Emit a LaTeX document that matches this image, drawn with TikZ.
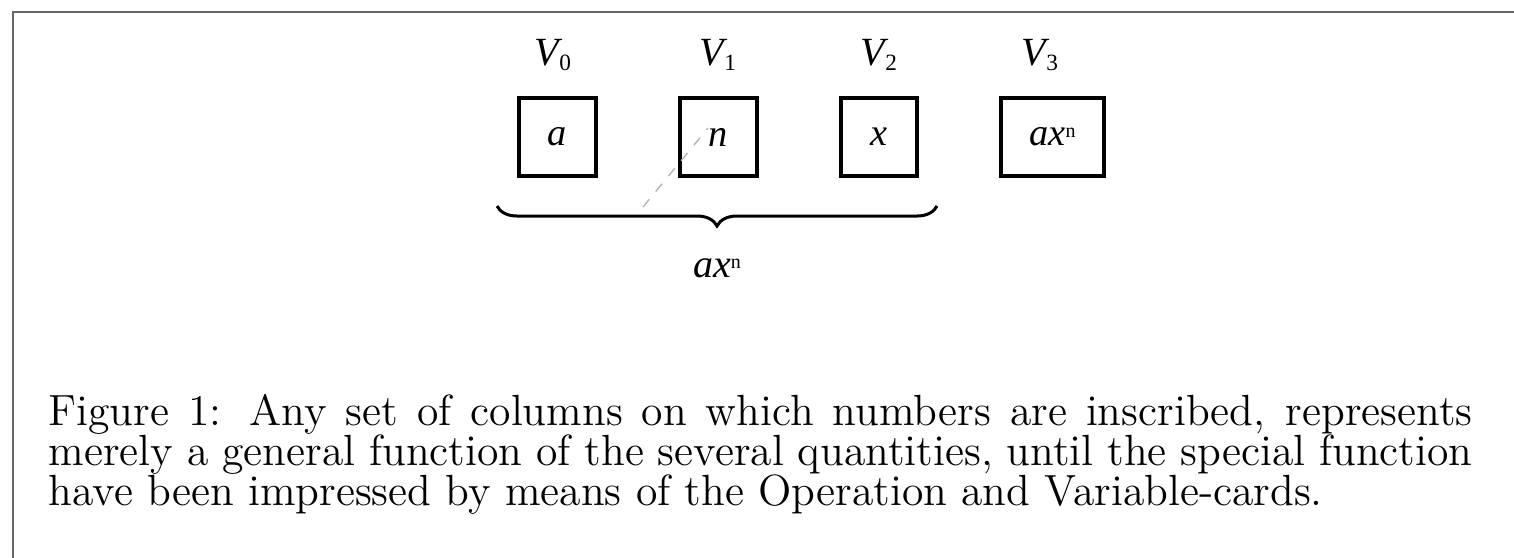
\documentclass[tikz,border=0pt]{standalone}
\usepackage{fontspec}
\newfontfamily\tms{Liberation Serif}
\usetikzlibrary{decorations.pathreplacing}
\newcommand{\vlab}[1]{{\tms\itshape V}{\tms\upshape\fontsize{7}{8}\selectfont\raisebox{-0.5ex}{#1}}}
\newcommand{\axn}{{\tms\itshape ax}{\tms\upshape\fontsize{6}{7}\selectfont\raisebox{0.9ex}{n}}}
\begin{document}
\begin{tikzpicture}[x=0.3pt,y=-0.3pt,
  cell/.style={draw, line width=1.2pt, minimum width=23pt, minimum height=23.5pt, inner sep=0pt, font=\tms\fontsize{11.5}{13}\selectfont\itshape},
  vname/.style={inner sep=0pt, font=\tms\fontsize{12}{13}\selectfont},
  capline/.style={anchor=base west, inner sep=0pt, font=\fontsize{13.1}{12}\selectfont},
  frame/.style={draw=black!60, line width=0.6pt}]
\useasboundingbox (0,0) rectangle (1514,557);
\fill[white] (0,0) rectangle (1514,557);
% frame
\draw[frame] (13,560) -- (13,12) -- (1520,12);
% cells
\node[cell] (c0) at (557.5,137) {a};
\node[cell] (c1) at (718.5,137) {n};
\node[cell] (c2) at (879,137) {x};
\node[cell, minimum width=31pt] (c3) at (1052.5,137) {\axn};
% variable names
\node[vname] (v0) at (553,55) {\vlab{0}};
\node[vname] (v1) at (718,55) {\vlab{1}};
\node[vname] (v2) at (879,55) {\vlab{2}};
\node[vname] (v3) at (1040,55) {\vlab{3}};
% brace
\coordinate (bl) at (497,206);
\coordinate (br) at (937,206);
\draw[line width=0.9pt, decorate, decoration={brace, mirror, amplitude=6pt}] (bl) -- (br);
\node[vname] (sum) at (717,268) {\axn};
% faint scan mark
\draw[black!30, dashed, line width=0.4pt] (643,207) -- (708,128);
% caption
\node[capline] (l1) at (48,425) {\makebox[427.2pt][s]{Figure 1: Any set of columns on which numbers are inscribed, represents}};
\node[capline] (l2) at (48,465) {\makebox[427.2pt][s]{merely a general function of the several quantities, until the special function}};
\node[capline] (l3) at (48,505) {have been impressed by means of the Operation and Variable-cards.};
\end{tikzpicture}
\end{document}
